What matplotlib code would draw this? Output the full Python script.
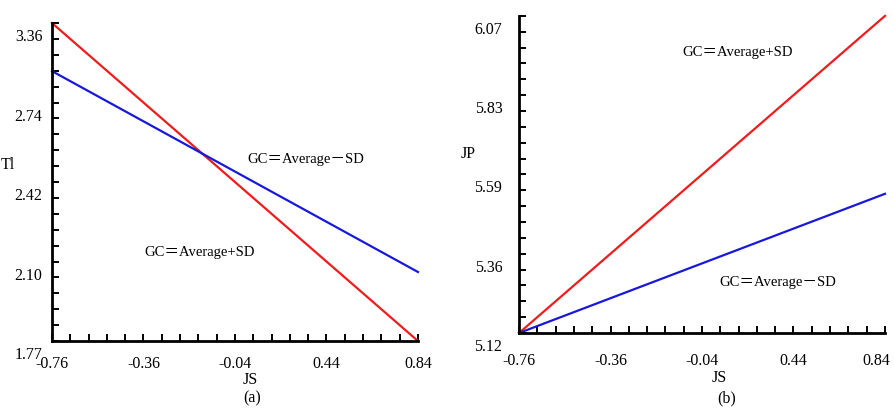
import numpy as np
import matplotlib
matplotlib.use('Agg')
import matplotlib.pyplot as plt
from matplotlib.transforms import ScaledTranslation

plt.rcParams['font.family'] = ['Liberation Serif', 'Noto Sans CJK SC']

# - data
js = [-0.76, 0.84]
ti_high = [3.06, 1.77]   # GC = Average+SD
ti_low = [2.865, 2.05]   # GC = Average-SD
jp_high = [5.12, 6.07]
jp_low = [5.12, 5.537]

x_ticklabels = ['-0.76', '-0.36', '-0.04', '0.44', '0.84']
ti_lim = (1.77, 3.06)
ti_ticklabels = ['1.77', '2.10', '2.42', '2.74', '3.36']
jp_lim = (5.12, 6.07)
jp_ticklabels = ['5.12', '5.36', '5.59', '5.83', '6.07']

red = '#ee1c1c'
blue = '#1818dc'

fig = plt.figure(figsize=(8.95, 4.14), dpi=100)
ax1 = fig.add_axes([0.0581, 0.1739, 0.4089, 0.768])
ax2 = fig.add_axes([0.5799, 0.1932, 0.4089, 0.766])


def style(ax, ylim, ylabels, xpad, ypad):
    ax.set_xlim(js[0], js[1])
    ax.set_ylim(*ylim)
    ax.set_xticks(np.linspace(js[0], js[1], 5), labels=x_ticklabels)
    ax.set_xticks(np.linspace(js[0], js[1], 21), minor=True)
    ax.set_yticks(np.linspace(ylim[0], ylim[1], 5), labels=ylabels)
    ax.set_yticks(np.linspace(ylim[0], ylim[1], 21), minor=True)
    for s in ['top', 'right']:
        ax.spines[s].set_visible(False)
    for s in ['left', 'bottom']:
        ax.spines[s].set_linewidth(2)
    ax.tick_params(which='both', direction='in', length=5, width=1.4, labelsize=11.5)
    ax.tick_params(axis='x', pad=xpad)
    ax.tick_params(axis='y', pad=ypad)
    off = ScaledTranslation(0, -0.11, fig.dpi_scale_trans)
    for lab in ax.get_yticklabels():
        lab.set_transform(lab.get_transform() + off)


def labels(ax, xy_js, xy_y, name):
    ax.set_xlabel('JS', fontsize=11.5, va='center', ha='center')
    ax.xaxis.set_label_coords(*xy_js)
    ax.set_ylabel(name, fontsize=11.5, rotation=0, va='center', ha='center')
    ax.yaxis.set_label_coords(*xy_y)


# (a)
ax1.plot(js, ti_high, color=red, lw=1.6, clip_on=False)
ax1.plot(js, ti_low, color=blue, lw=1.6, clip_on=False)
style(ax1, ti_lim, ti_ticklabels, 10, 7)
labels(ax1, (0.541, -0.12), (-0.12, 0.557), 'Tl')
ax1.text(0.546, -0.178, '(a)', transform=ax1.transAxes, ha='center', va='center', fontsize=11.5)
ax1.text(0.694, 0.575, 'GC＝Average－SD', transform=ax1.transAxes, ha='center', va='center', fontsize=10.5)
ax1.text(0.404, 0.283, 'GC＝Average+SD', transform=ax1.transAxes, ha='center', va='center', fontsize=10.5)

# (b)
ax2.plot(js, jp_high, color=red, lw=1.6, clip_on=False)
ax2.plot(js, jp_low, color=blue, lw=1.6, clip_on=False)
style(ax2, jp_lim, jp_ticklabels, 14, 12)
labels(ax2, (0.546, -0.139), (-0.139, 0.567), 'JP')
last = ax2.get_xticklabels()[-1]
last.set_transform(last.get_transform() + ScaledTranslation(-0.09, 0, fig.dpi_scale_trans))
ax2.text(0.566, -0.2015, '(b)', transform=ax2.transAxes, ha='center', va='center', fontsize=11.5)
ax2.text(0.596, 0.888, 'GC＝Average+SD', transform=ax2.transAxes, ha='center', va='center', fontsize=10.5)
ax2.text(0.708, 0.164, 'GC＝Average－SD', transform=ax2.transAxes, ha='center', va='center', fontsize=10.5)

fig.savefig('out.png', dpi=100)
